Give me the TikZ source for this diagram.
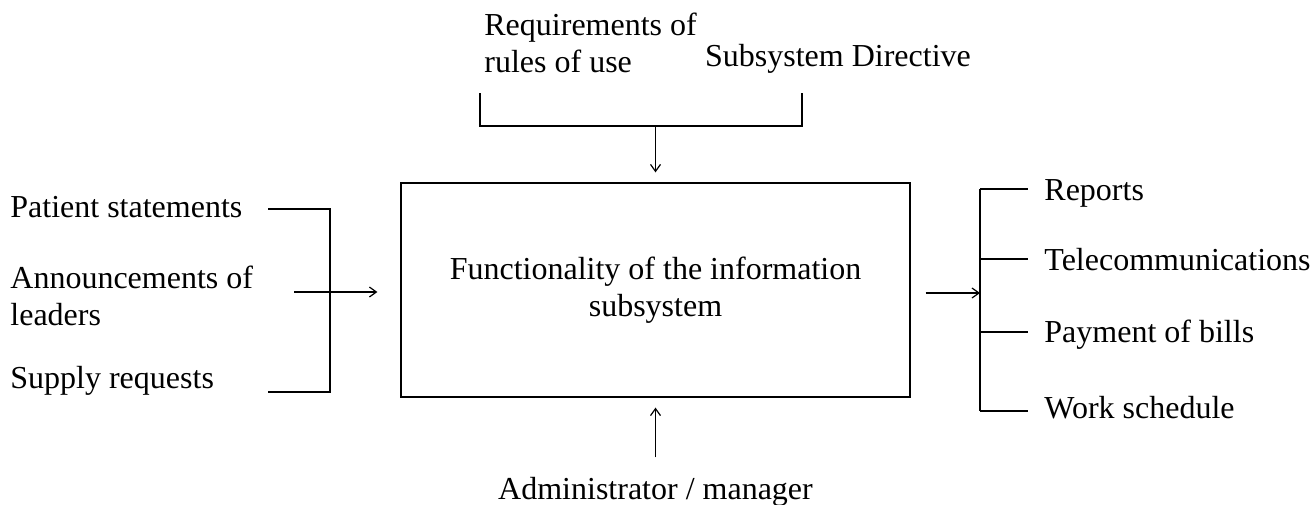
\documentclass[tikz,border=0pt]{standalone}
\usepackage{fontspec}
\setmainfont{Liberation Serif}
\usetikzlibrary{arrows.meta}
\tikzset{
  lbl/.style={inner sep=0pt, anchor=base west, align=left},
  fnbox/.style={draw, line width=0.6pt, minimum width=254.5pt, minimum height=107pt, align=center, inner sep=0pt},
  conn/.style={line width=0.6pt},
  arr/.style={conn, -{Straight Barb[length=3.5pt,width=5pt]}}
}
\begin{document}
\begin{tikzpicture}[x=0.5pt,y=-0.5pt,font=\fontsize{16}{18.5}\selectfont]
  \useasboundingbox (0,0) rectangle (1313,504);
  \node [fnbox] (fn) at (655.5,290) {Functionality of the information\\subsystem};
  % top
  \node [lbl] (req) at (484,72) {Requirements of\\rules of use};
  \node [lbl, anchor=base] (dir) at (838,66) {Subsystem Directive};
  \coordinate (req-end) at (480,93);
  \coordinate (dir-end) at (802,93);
  \coordinate (tj) at (655.5,126);
  \draw [conn] (req-end) |- (tj) -| (dir-end);
  \draw [arr] (tj) -- ([yshift=5pt]fn.north);
  % left
  \node [lbl] (pat) at (10,217) {Patient statements};
  \node [lbl] (ann) at (10,325) {Announcements of\\leaders};
  \node [lbl] (sup) at (10,388) {Supply requests};
  \coordinate (pat-end) at (268,209);
  \coordinate (sup-end) at (268,392);
  \coordinate (lj) at (330,292);
  \coordinate (ann-end) at (294,292);
  \draw [conn] (pat-end) -| (lj) |- (sup-end);
  \draw [arr] (ann-end) -- ([xshift=-11.5pt]fn.west |- ann-end);
  % right
  \coordinate (rj) at (980,293);
  \draw [arr] ([xshift=7.5pt]fn.east |- rj) -- (rj);
  \foreach \n/\y/\b/\txt in {rep/189/200/Reports, tel/259/270/Telecommunications,
      pay/332/342/Payment of bills, work/411/418/Work schedule}{
    \coordinate (\n-end) at (1028,\y);
    \draw [conn] (rj |- \n-end) -- (\n-end);
    \node [lbl] (\n) at (1044,\b) {\txt};
  }
  \draw [conn] (rj |- rep-end) -- (rj |- work-end);
  % bottom
  \node [inner sep=0pt, anchor=base] (adm) at (655.5,499) {Administrator / manager};
  \draw [arr] ([yshift=9.5pt]adm.north) -- ([yshift=-5pt]fn.south);
\end{tikzpicture}
\end{document}
